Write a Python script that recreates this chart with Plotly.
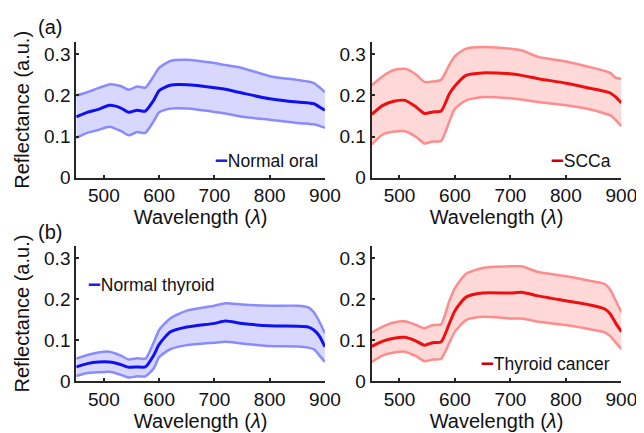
import plotly.graph_objects as go
from plotly.subplots import make_subplots

wavelength = [450, 470, 490, 510, 530, 545, 560, 575, 590, 600, 620, 650, 700, 720, 750, 800, 850, 870, 880, 890, 900]

oral_mean = [.148, .159, .166, .176, .170, .159, .164, .162, .188, .212, .225, .226, .219, .215, .206, .192, .184, .182, .180, .172, .164]
oral_upper = [.200, .208, .218, .227, .223, .214, .222, .219, .247, .267, .284, .287, .279, .274, .267, .247, .238, .234, .230, .220, .208]
oral_lower = [.097, .109, .116, .124, .114, .103, .111, .109, .137, .159, .168, .168, .160, .156, .148, .141, .133, .131, .130, .126, .121]

scca_mean = [.154, .176, .186, .188, .172, .156, .160, .162, .204, .223, .249, .255, .253, .249, .241, .230, .216, .210, .206, .196, .182]
scca_upper = [.225, .247, .262, .265, .251, .233, .234, .238, .275, .296, .314, .318, .314, .310, .294, .283, .267, .260, .255, .243, .241]
scca_lower = [.081, .105, .112, .113, .099, .083, .088, .089, .137, .168, .188, .196, .193, .190, .184, .176, .164, .156, .152, .140, .125]

thy_mean = [.035, .043, .047, .047, .041, .034, .035, .035, .063, .090, .120, .132, .141, .147, .141, .135, .134, .132, .125, .110, .084]
thy_upper = [.055, .064, .070, .072, .063, .053, .056, .055, .094, .125, .153, .172, .184, .190, .187, .184, .184, .180, .168, .145, .117]
thy_lower = [.013, .020, .022, .023, .016, .009, .012, .012, .031, .059, .078, .088, .094, .096, .092, .086, .085, .082, .078, .063, .047]

tc_mean = [.085, .098, .105, .107, .098, .088, .094, .096, .141, .172, .205, .215, .215, .217, .208, .196, .184, .176, .164, .141, .121]
tc_upper = [.119, .133, .143, .146, .137, .129, .137, .139, .196, .227, .262, .276, .280, .280, .266, .256, .243, .237, .223, .196, .168]
tc_lower = [.047, .063, .070, .072, .061, .049, .053, .055, .094, .121, .149, .157, .153, .153, .145, .137, .125, .119, .110, .094, .078]

x_ticks = [500, 600, 700, 800, 900]
y_ticks = [0, 0.1, 0.2, 0.3]
y_ticklabels = ["0", "0.1", "0.2", "0.3"]

BLUE = "#1010f0"
BLUE_EDGE = "#8a8aff"
BLUE_FILL = "#d8d8ff"
RED = "#ee1010"
RED_EDGE = "#ff8c8c"
RED_FILL = "#ffd8d8"
BLUE_KEY = "#2020e0"
RED_KEY = "#cc0000"

FONT = "Liberation Sans, Arial, sans-serif"
TXT = "#111111"

fig = make_subplots(rows=2, cols=2)

panels = [
    (1, 1, oral_mean, oral_upper, oral_lower, BLUE, BLUE_EDGE, BLUE_FILL, "Normal oral"),
    (1, 2, scca_mean, scca_upper, scca_lower, RED, RED_EDGE, RED_FILL, "SCCa"),
    (2, 1, thy_mean, thy_upper, thy_lower, BLUE, BLUE_EDGE, BLUE_FILL, "Normal thyroid"),
    (2, 2, tc_mean, tc_upper, tc_lower, RED, RED_EDGE, RED_FILL, "Thyroid cancer"),
]

for r, c, m, u, l, col, edge, fill, name in panels:
    fig.add_trace(go.Scatter(x=wavelength, y=l, mode="lines", line=dict(color=edge, width=2.5, shape="spline", smoothing=0.6),
                             showlegend=False, hoverinfo="skip"), row=r, col=c)
    fig.add_trace(go.Scatter(x=wavelength, y=u, mode="lines", line=dict(color=edge, width=2.5, shape="spline", smoothing=0.6),
                             fill="tonexty", fillcolor=fill, showlegend=False, hoverinfo="skip"), row=r, col=c)
    fig.add_trace(go.Scatter(x=wavelength, y=m, mode="lines", line=dict(color=col, width=3, shape="spline", smoothing=0.6),
                             name=name, showlegend=False), row=r, col=c)

xdom = {1: [70 / 644, 325 / 644], 2: [373 / 644, 629 / 644]}
ydom = {1: [(433 - 174) / 433, (433 - 35) / 433], 2: [(433 - 383) / 433, (433 - 244) / 433]}

for r in (1, 2):
    for c in (1, 2):
        fig.update_xaxes(domain=xdom[c], range=[450, 900], tickvals=x_ticks, ticks="inside", ticklen=3,
                         showline=True, linecolor="#262626", linewidth=2, tickcolor="#262626", tickwidth=1.5,
                         showgrid=False, zeroline=False, tickfont=dict(size=19, color=TXT, family=FONT),
                         title=dict(text="Wavelength (<i>λ</i>)", font=dict(size=20, color=TXT, family=FONT), standoff=0),
                         row=r, col=c)
        fig.update_yaxes(domain=ydom[r], range=[0, 0.33], tickvals=y_ticks, ticktext=y_ticklabels, ticks="inside", ticklen=3,
                         showline=True, linecolor="#262626", linewidth=2, tickcolor="#262626", tickwidth=1.5,
                         showgrid=False, zeroline=False, tickfont=dict(size=19, color=TXT, family=FONT),
                         title=dict(text="Reflectance (a.u.)" if c == 1 else "", font=dict(size=20, color=TXT, family=FONT), standoff=9),
                         row=r, col=c)

def legend_text(color, label):
    return f'<span style="color:{color};font-size:23px"><b>–</b></span>{label}'

annotations = [
    dict(text=legend_text(BLUE_KEY, "Normal oral"), x=320 / 644, y=(433 - 155) / 433, xanchor="right", yanchor="middle"),
    dict(text=legend_text(RED_KEY, "SCCa"), x=620 / 644, y=(433 - 155) / 433, xanchor="right", yanchor="middle"),
    dict(text=legend_text(BLUE_KEY, "Normal thyroid"), x=80 / 644, y=(433 - 282) / 433, xanchor="left", yanchor="middle"),
    dict(text=legend_text(RED_KEY, "Thyroid cancer"), x=619 / 644, y=(433 - 363) / 433, xanchor="right", yanchor="middle"),
]
for a in annotations:
    fig.add_annotation(xref="paper", yref="paper", showarrow=False, font=dict(size=17.5, color=TXT, family=FONT), **a)

fig.add_annotation(text="(a)", xref="paper", yref="paper", x=29 / 644, y=(433 - 19) / 433, xanchor="left", yanchor="middle",
                   showarrow=False, font=dict(size=20, color=TXT, family=FONT))
fig.add_annotation(text="(b)", xref="paper", yref="paper", x=29 / 644, y=(433 - 230) / 433, xanchor="left", yanchor="middle",
                   showarrow=False, font=dict(size=20, color=TXT, family=FONT))

fig.update_layout(width=644, height=433, margin=dict(l=0, r=0, t=0, b=0), plot_bgcolor="white", paper_bgcolor="white",
                  font=dict(family=FONT))

fig.write_html("out.html")
